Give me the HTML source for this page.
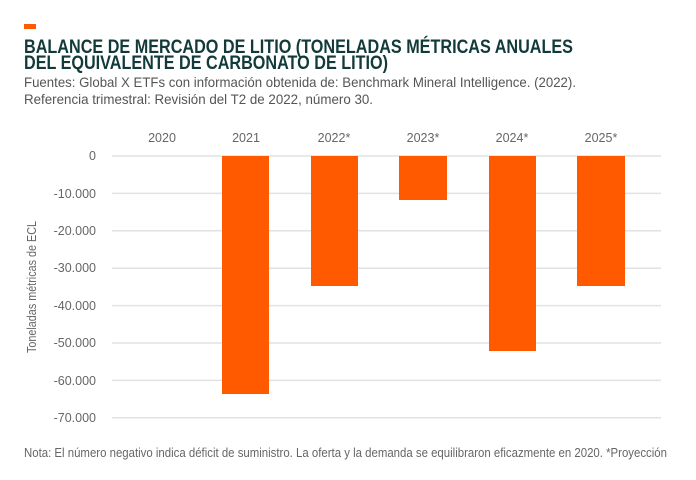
<!DOCTYPE html>
<html><head><meta charset="utf-8"><style>
body{margin:0;background:#fff}
svg{display:block;font-family:"Liberation Sans",sans-serif}
</style></head><body>
<svg width="696" height="480" viewBox="0 0 696 480">
<rect x="24" y="24" width="12" height="5" fill="#ff5a00"/>
<g fill="#123a3a" font-weight="bold" font-size="19">
<text x="24" y="53" textLength="549" lengthAdjust="spacingAndGlyphs">BALANCE DE MERCADO DE LITIO (TONELADAS MÉTRICAS ANUALES</text>
<text x="24" y="69" textLength="364" lengthAdjust="spacingAndGlyphs">DEL EQUIVALENTE DE CARBONATO DE LITIO)</text>
</g>
<g fill="#555" font-size="14">
<text x="24" y="87" textLength="552" lengthAdjust="spacingAndGlyphs">Fuentes: Global X ETFs con información obtenida de: Benchmark Mineral Intelligence. (2022).</text>
<text x="24" y="104" textLength="349" lengthAdjust="spacingAndGlyphs">Referencia trimestral: Revisión del T2 de 2022, número 30.</text>
</g>
<g stroke="#e2e2e2" stroke-width="1.5">
<line x1="112" x2="661" y1="156" y2="156"/>
<line x1="112" x2="661" y1="193.4" y2="193.4"/>
<line x1="112" x2="661" y1="230.8" y2="230.8"/>
<line x1="112" x2="661" y1="268.2" y2="268.2"/>
<line x1="112" x2="661" y1="305.6" y2="305.6"/>
<line x1="112" x2="661" y1="343" y2="343"/>
<line x1="112" x2="661" y1="380.4" y2="380.4"/>
<line x1="112" x2="661" y1="417.8" y2="417.8"/>
</g>
<g fill="#ff5a00">
<rect x="222" y="156" width="47" height="238"/>
<rect x="311" y="156" width="47" height="130"/>
<rect x="399" y="156" width="48" height="44"/>
<rect x="489" y="156" width="47" height="195"/>
<rect x="577" y="156" width="48" height="130"/>
</g>
<g fill="#666" font-size="12.5" text-anchor="end">
<text x="96" y="160">0</text>
<text x="96" y="198">-10.000</text>
<text x="96" y="235">-20.000</text>
<text x="96" y="272">-30.000</text>
<text x="96" y="310">-40.000</text>
<text x="96" y="347">-50.000</text>
<text x="96" y="385">-60.000</text>
<text x="96" y="422">-70.000</text>
</g>
<g fill="#666" font-size="12.5" text-anchor="middle">
<text x="162" y="142">2020</text>
<text x="246" y="142">2021</text>
<text x="334" y="142">2022*</text>
<text x="423" y="142">2023*</text>
<text x="512" y="142">2024*</text>
<text x="601" y="142">2025*</text>
</g>
<text transform="translate(36,287) rotate(-90)" fill="#666" font-size="12.5" text-anchor="middle" textLength="132" lengthAdjust="spacingAndGlyphs">Toneladas métricas de ECL</text>
<text x="24" y="457" fill="#666" font-size="12.5" textLength="643" lengthAdjust="spacingAndGlyphs">Nota: El número negativo indica déficit de suministro. La oferta y la demanda se equilibraron eficazmente en 2020. *Proyección</text>
</svg>
</body></html>
